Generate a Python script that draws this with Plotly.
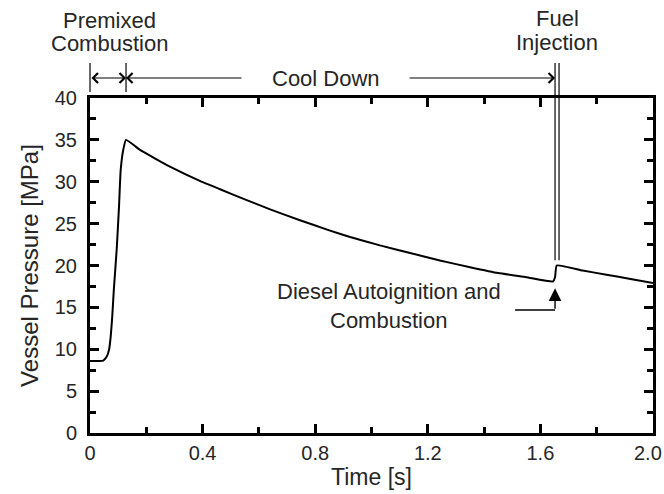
import plotly.graph_objects as go

# ---- data ----
time_s = [0.0, 0.02, 0.047, 0.059, 0.0675, 0.0735, 0.079, 0.085, 0.095, 0.103, 0.109,
          0.118, 0.128, 0.178, 0.23, 0.284, 0.39, 0.462, 0.55, 0.64, 0.746, 0.85,
          0.924, 1.03, 1.137, 1.243, 1.35, 1.45, 1.55, 1.645, 1.652, 1.658,
          1.75, 1.835, 1.92, 2.0]
pressure_mpa = [8.6, 8.6, 8.65, 9.1, 9.9, 11.5, 13.9, 17.3, 22.0, 27.0, 31.4,
                33.8, 35.0, 33.8, 32.8, 31.8, 30.1, 29.1, 27.9, 26.7, 25.4, 24.2,
                23.4, 22.4, 21.5, 20.6, 19.8, 19.1, 18.6, 18.1, 18.6, 20.0,
                19.4, 18.9, 18.4, 17.9]

x_tickvals = [0, 0.4, 0.8, 1.2, 1.6, 2.0]
x_ticktext = ["0", "0.4", "0.8", "1.2", "1.6", "2.0"]
y_tickvals = [0, 5, 10, 15, 20, 25, 30, 35, 40]

premix_start = 0.0
premix_end = 0.128
inject_t = 1.652

x_max = 2.0
FONT = "Liberation Sans, Arial, sans-serif"
TXT = "#262626"

fig = go.Figure()
fig.add_trace(go.Scatter(x=time_s, y=pressure_mpa, mode="lines",
                         line=dict(color="black", width=2, shape="spline", smoothing=0.4),
                         showlegend=False))

tick_font = dict(family=FONT, size=20, color=TXT)
axis_common = dict(showline=True, linewidth=3, linecolor="black", mirror="allticks",
                   ticks="inside", ticklen=9, tickwidth=2.5, tickcolor="black",
                   showgrid=False, zeroline=False, automargin=False,
                   tickfont=tick_font)

# the last x label sits at the right page edge; it is drawn as a right-anchored
# annotation so it stays fully inside the picture
fig.update_xaxes(range=[0, x_max], tickmode="array", tickvals=x_tickvals,
                 ticktext=x_ticktext[:-1] + [""],
                 minor=dict(dtick=0.2, tick0=0, ticks="inside", ticklen=6, tickwidth=2.5,
                            tickcolor="black", showgrid=False),
                 title=dict(text="Time [s]", font=dict(family=FONT, size=23, color=TXT), standoff=6),
                 **axis_common)
fig.update_yaxes(range=[0, 40], tickmode="array", tickvals=y_tickvals,
                 minor=dict(dtick=2.5, tick0=0, ticks="inside", ticklen=6, tickwidth=2.5,
                            tickcolor="black", showgrid=False),
                 ticklabelstandoff=6,
                 title=dict(text="Vessel Pressure [MPa]", font=dict(family=FONT, size=24, color=TXT), standoff=10),
                 **axis_common)

# plot area geometry in pixels (for converting offsets to paper units)
W_PLOT = 563.0
H_PLOT = 335.0
gap = 4.0 / W_PLOT

def xp(t):
    return t / x_max

y_top = 1.1045
y_bar = 1.018
y_arrow = 1.0597

shapes = []
# premixed combustion bounds
for t in (premix_start, premix_end):
    shapes.append(dict(type="line", xref="paper", yref="paper", x0=xp(t), x1=xp(t),
                       y0=y_bar, y1=y_top, line=dict(color="black", width=1.2)))
# fuel injection double line
for dx in (0, gap):
    shapes.append(dict(type="line", xref="paper", yref="paper", x0=xp(inject_t) + dx,
                       x1=xp(inject_t) + dx, y0=0.516, y1=y_top,
                       line=dict(color="black", width=1.2)))
# diesel annotation elbow
shapes.append(dict(type="line", xref="paper", yref="paper", x0=xp(1.51), x1=xp(inject_t),
                   y0=0.367, y1=0.367, line=dict(color="black", width=1.4)))
fig.update_layout(shapes=shapes)

ann_font = dict(family=FONT, size=22, color=TXT)
annotations = [
    # double arrow premixed
    dict(x=premix_end, y=y_arrow, xref="x", yref="paper", ax=premix_start, ay=0,
         axref="x", ayref="pixel", text="", showarrow=True, arrowhead=4, startarrowhead=4,
         arrowside="end+start", arrowsize=1.6, startarrowsize=1.6, arrowwidth=1.2, arrowcolor="black"),
    # left arrow of cool down
    dict(x=premix_end, y=y_arrow, xref="x", yref="paper", ax=0.5435, ay=0,
         axref="x", ayref="pixel", text="", showarrow=True, arrowhead=4,
         arrowsize=1.6, arrowwidth=1.2, arrowcolor="black"),
    # right arrow of cool down
    dict(x=inject_t, y=y_arrow, xref="x", yref="paper", ax=1.13, ay=0,
         axref="x", ayref="pixel", text="", showarrow=True, arrowhead=4,
         arrowsize=1.6, arrowwidth=1.2, arrowcolor="black"),
    dict(x=0.838, y=y_arrow, xref="x", yref="paper", text="Cool Down", showarrow=False,
         font=ann_font, xanchor="center", yanchor="middle"),
    dict(x=0.068, y=(433 - 21) / H_PLOT, xref="x", yref="paper", text="Premixed", showarrow=False,
         font=ann_font, xanchor="center", yanchor="middle", borderpad=0),
    dict(x=0.068, y=(433 - 44) / H_PLOT, xref="x", yref="paper", text="Combustion", showarrow=False,
         font=ann_font, xanchor="center", yanchor="middle", borderpad=0),
    dict(x=1.66, y=(433 - 19) / H_PLOT, xref="x", yref="paper", text="Fuel", showarrow=False,
         font=ann_font, xanchor="center", yanchor="middle", borderpad=0),
    dict(x=1.66, y=(433 - 42) / H_PLOT, xref="x", yref="paper", text="Injection", showarrow=False,
         font=ann_font, xanchor="center", yanchor="middle", borderpad=0),
    dict(x=1.062, y=0.421, xref="x", yref="paper", text="Diesel Autoignition and", showarrow=False,
         font=ann_font, xanchor="center", yanchor="middle", borderpad=0),
    dict(x=1.062, y=0.337, xref="x", yref="paper", text="Combustion", showarrow=False,
         font=ann_font, xanchor="center", yanchor="middle", borderpad=0),
    # up arrow for diesel autoignition
    dict(x=inject_t, y=0.432, xref="x", yref="paper", ax=0, ay=22, text="", showarrow=True,
         arrowhead=2, arrowsize=1.8, arrowwidth=1.4, arrowcolor="black"),
    # last x tick label, kept inside the page
    dict(x=1.0 + 10.0 / W_PLOT, y=-20.0 / H_PLOT, xref="paper", yref="paper",
         text=x_ticktext[-1], showarrow=False, font=tick_font,
         xanchor="right", yanchor="middle", borderpad=0),
]
fig.update_layout(annotations=annotations)

fig.update_layout(width=664, height=494, margin=dict(l=90, r=11, t=98, b=61),
                  plot_bgcolor="white", paper_bgcolor="white",
                  font=dict(family=FONT, color=TXT))

fig.write_html("out.html")
